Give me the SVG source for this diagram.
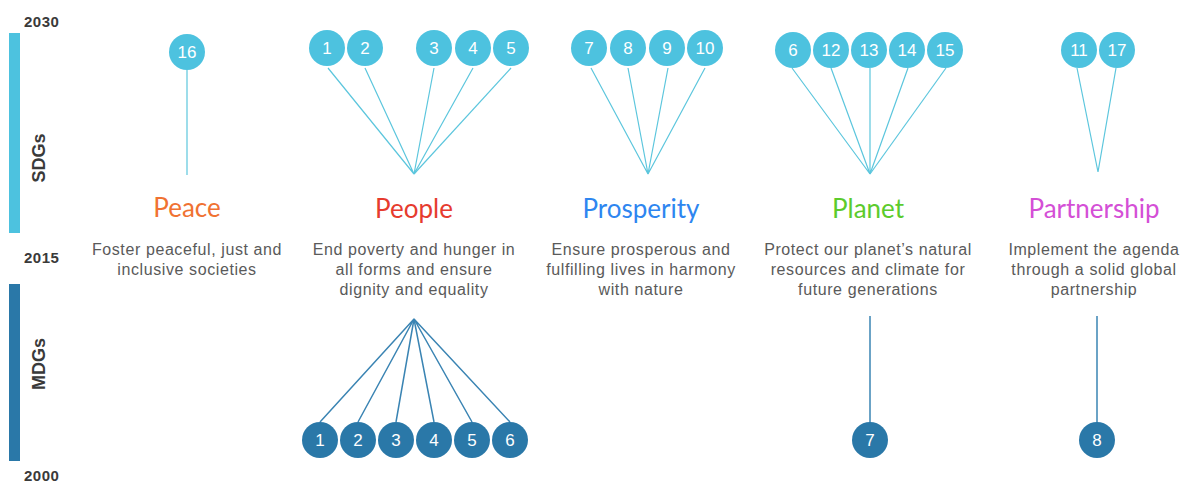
<svg xmlns="http://www.w3.org/2000/svg" width="1190" height="482" viewBox="0 0 1190 482">
<style>
.yr{font-family:"Liberation Sans",Arial,sans-serif;font-size:15px;letter-spacing:0.5px;font-weight:bold;fill:#3a3a3a}
.lab{font-family:"Liberation Sans",Arial,sans-serif;font-size:18px;font-weight:bold;fill:#3a3a3a}
.sdg{fill:#4DC2DF}
.mdg{fill:#2A78A8}
.num{font-family:"Liberation Sans",Arial,sans-serif;font-size:17px;fill:#ffffff;text-anchor:middle}
.ttl{font-family:Lato,"Open Sans",sans-serif;font-size:26px;text-anchor:middle}
.desc{font-family:"Liberation Sans",Arial,sans-serif;font-size:16px;letter-spacing:0.6px;fill:#5a5a5a;text-anchor:middle}
.sl{stroke:#5CC6DD;stroke-width:1.2;fill:none}
.ml{stroke:#3A84B3;stroke-width:1.5;fill:none}
</style>
<rect width="1190" height="482" fill="#ffffff"/>
<g id="timeline">
<rect x="9" y="33" width="11" height="200" fill="#4DC2DF"/>
<rect x="9" y="284" width="11" height="177" fill="#2A78A8"/>
<text class="yr" x="24" y="27">2030</text>
<text class="yr" x="24" y="263">2015</text>
<text class="yr" x="24" y="481">2000</text>
<text class="lab" transform="translate(45,158) rotate(-90)" text-anchor="middle">SDGs</text>
<text class="lab" transform="translate(45,364) rotate(-90)" text-anchor="middle">MDGs</text>
</g>
<g id="connectors">
<line class="sl" x1="187" y1="70" x2="187" y2="175"/>
<polyline class="sl" points="328,68 414,174 365,68"/>
<polyline class="sl" points="434,68 414,174 473,68"/>
<polyline class="sl" points="511,68 414,174"/>
<polyline class="sl" points="591,68 648,174 628,68"/>
<polyline class="sl" points="668,68 648,174 705,68"/>
<polyline class="sl" points="792,68 870,174 831,68"/>
<polyline class="sl" points="870,68 870,174 908,68"/>
<polyline class="sl" points="946,68 870,174"/>
<polyline class="sl" points="1077,68 1098,172 1116,68"/>
<polyline class="ml" points="320,422 414,319 358,422"/>
<polyline class="ml" points="396,422 414,319 434,422"/>
<polyline class="ml" points="472,422 414,319 510,422"/>
<line class="ml" x1="870" y1="316" x2="870" y2="423"/>
<line class="ml" x1="1097" y1="316" x2="1097" y2="423"/>
</g>
<g id="sdg-circles">
<g id="sdg16"><circle class="sdg" cx="187" cy="52" r="18"/><text class="num" x="187" y="58">16</text></g>
<g id="sdg1"><circle class="sdg" cx="327" cy="48" r="18"/><text class="num" x="327" y="54">1</text></g>
<g id="sdg2"><circle class="sdg" cx="365" cy="48" r="18"/><text class="num" x="365" y="54">2</text></g>
<g id="sdg3"><circle class="sdg" cx="434" cy="48" r="18"/><text class="num" x="434" y="54">3</text></g>
<g id="sdg4"><circle class="sdg" cx="473" cy="48" r="18"/><text class="num" x="473" y="54">4</text></g>
<g id="sdg5"><circle class="sdg" cx="511" cy="48" r="18"/><text class="num" x="511" y="54">5</text></g>
<g id="sdg7"><circle class="sdg" cx="589" cy="48" r="18"/><text class="num" x="589" y="54">7</text></g>
<g id="sdg8"><circle class="sdg" cx="628" cy="48" r="18"/><text class="num" x="628" y="54">8</text></g>
<g id="sdg9"><circle class="sdg" cx="667" cy="48" r="18"/><text class="num" x="667" y="54">9</text></g>
<g id="sdg10"><circle class="sdg" cx="705" cy="48" r="18"/><text class="num" x="705" y="54">10</text></g>
<g id="sdg6"><circle class="sdg" cx="793" cy="50" r="18"/><text class="num" x="793" y="56">6</text></g>
<g id="sdg12"><circle class="sdg" cx="831" cy="50" r="18"/><text class="num" x="831" y="56">12</text></g>
<g id="sdg13"><circle class="sdg" cx="869" cy="50" r="18"/><text class="num" x="869" y="56">13</text></g>
<g id="sdg14"><circle class="sdg" cx="907" cy="50" r="18"/><text class="num" x="907" y="56">14</text></g>
<g id="sdg15"><circle class="sdg" cx="945" cy="50" r="18"/><text class="num" x="945" y="56">15</text></g>
<g id="sdg11"><circle class="sdg" cx="1079" cy="50" r="18"/><text class="num" x="1079" y="56">11</text></g>
<g id="sdg17"><circle class="sdg" cx="1117" cy="50" r="18"/><text class="num" x="1117" y="56">17</text></g>
</g>
<g id="peace">
<text class="ttl" x="187" y="217" fill="#F07232">Peace</text>
<text class="desc" x="187" y="255">Foster peaceful, just and</text>
<text class="desc" x="187" y="275">inclusive societies</text>
</g>
<g id="people">
<text class="ttl" x="414" y="218" fill="#E63B2E">People</text>
<text class="desc" x="414" y="255">End poverty and hunger in</text>
<text class="desc" x="414" y="275">all forms and ensure</text>
<text class="desc" x="414" y="295">dignity and equality</text>
</g>
<g id="prosperity">
<text class="ttl" x="641" y="218" fill="#2E86F0">Prosperity</text>
<text class="desc" x="641" y="255">Ensure prosperous and</text>
<text class="desc" x="641" y="275">fulfilling lives in harmony</text>
<text class="desc" x="641" y="295">with nature</text>
</g>
<g id="planet">
<text class="ttl" x="868" y="218" fill="#5CCB2C">Planet</text>
<text class="desc" x="868" y="255">Protect our planet’s natural</text>
<text class="desc" x="868" y="275">resources and climate for</text>
<text class="desc" x="868" y="295">future generations</text>
</g>
<g id="partnership">
<text class="ttl" x="1094" y="218" fill="#D44FD6">Partnership</text>
<text class="desc" x="1094" y="255">Implement the agenda</text>
<text class="desc" x="1094" y="275">through a solid global</text>
<text class="desc" x="1094" y="295">partnership</text>
</g>
<g id="mdg-circles">
<g id="mdg1"><circle class="mdg" cx="320" cy="440" r="18"/><text class="num" x="320" y="446">1</text></g>
<g id="mdg2"><circle class="mdg" cx="358" cy="440" r="18"/><text class="num" x="358" y="446">2</text></g>
<g id="mdg3"><circle class="mdg" cx="396" cy="440" r="18"/><text class="num" x="396" y="446">3</text></g>
<g id="mdg4"><circle class="mdg" cx="434" cy="440" r="18"/><text class="num" x="434" y="446">4</text></g>
<g id="mdg5"><circle class="mdg" cx="472" cy="440" r="18"/><text class="num" x="472" y="446">5</text></g>
<g id="mdg6"><circle class="mdg" cx="510" cy="440" r="18"/><text class="num" x="510" y="446">6</text></g>
<g id="mdg7"><circle class="mdg" cx="870" cy="440" r="18"/><text class="num" x="870" y="446">7</text></g>
<g id="mdg8"><circle class="mdg" cx="1097" cy="440" r="18"/><text class="num" x="1097" y="446">8</text></g>
</g>
</svg>
